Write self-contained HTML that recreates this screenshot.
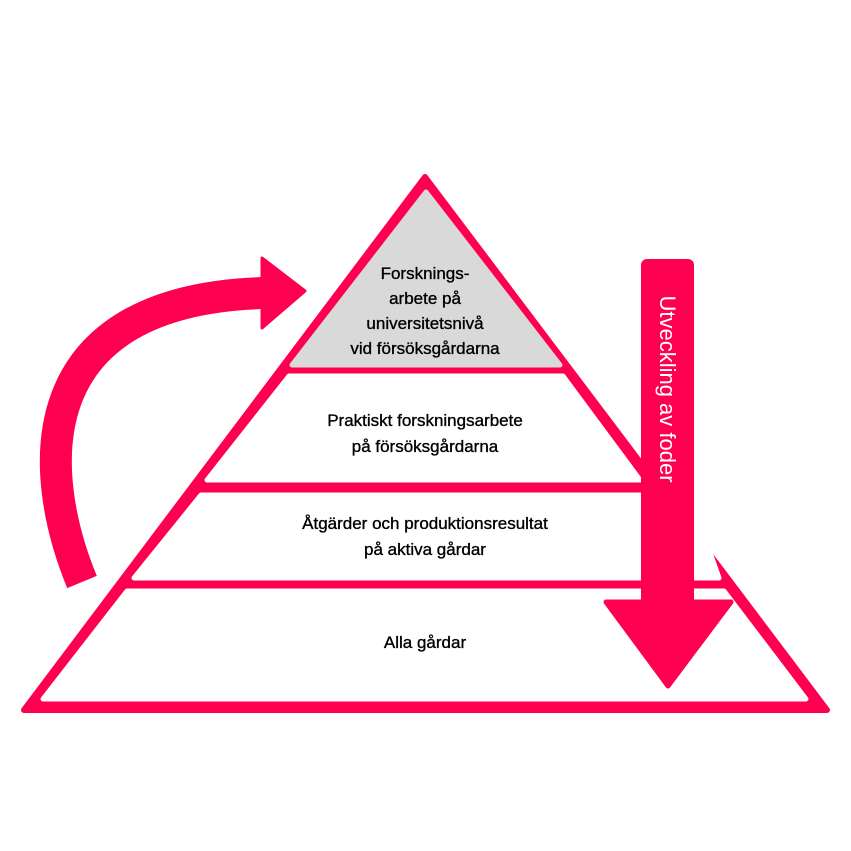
<!DOCTYPE html>
<html><head><meta charset="utf-8"><style>
html,body{margin:0;padding:0;background:#fff}
svg{display:block}
text{font-family:"Liberation Sans",sans-serif;font-size:17px;fill:#000;stroke:#000;stroke-width:0.35;text-anchor:middle}
</style></head><body>
<svg width="851" height="851" viewBox="0 0 851 851">
<polygon points="425,177 24,710 827,710" fill="#ff0050" stroke="#ff0050" stroke-width="6" stroke-linejoin="round"/>
<polygon points="426,192 292,365 560,365" fill="#d9d9d9" stroke="#d9d9d9" stroke-width="5" stroke-linejoin="round"/>
<polygon points="289,376 563,376 640,480 207,480" fill="#fff" stroke="#fff" stroke-width="5" stroke-linejoin="round"/>
<polygon points="201,495 690,495 719,578 134,578" fill="#fff" stroke="#fff" stroke-width="5" stroke-linejoin="round"/>
<polygon points="127,591 724,591 806,699 43,699" fill="#fff" stroke="#fff" stroke-width="5" stroke-linejoin="round"/>
<path d="M82,582 C36,470 26,300 264,293" fill="none" stroke="#ff0050" stroke-width="32" stroke-linejoin="round"/>
<polygon points="262,258 305,291 262,328" fill="#ff0050" stroke="#ff0050" stroke-width="3" stroke-linejoin="round"/>
<rect x="641" y="259" width="53" height="350" rx="6" fill="#ff0050"/>
<polygon points="606,602 731,602 668,686" fill="#ff0050" stroke="#ff0050" stroke-width="5" stroke-linejoin="round"/>
<text transform="translate(660,389) rotate(90)" style="fill:#fff;stroke:none;font-size:22px">Utveckling av foder</text>
<text x="425" y="279">Forsknings-</text>
<text x="425" y="304">arbete på</text>
<text x="425" y="329">universitetsnivå</text>
<text x="425" y="354">vid försöksgårdarna</text>
<text x="425" y="426">Praktiskt forskningsarbete</text>
<text x="425" y="452">på försöksgårdarna</text>
<text x="425" y="529">Åtgärder och produktionsresultat</text>
<text x="425" y="555">på aktiva gårdar</text>
<text x="425" y="648">Alla gårdar</text>
</svg>
</body></html>
